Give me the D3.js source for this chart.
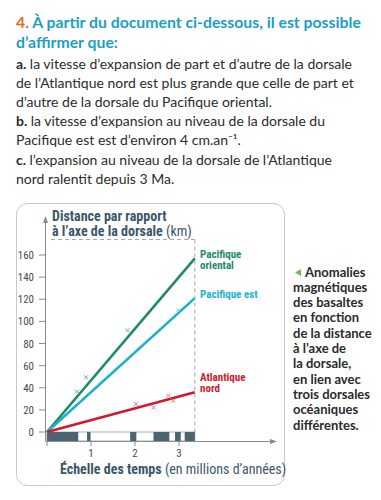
<!DOCTYPE html>
<html>
<head>
<meta charset="utf-8">
<script src="https://cdn.jsdelivr.net/npm/d3@7"></script>
<style>
  html, body { margin: 0; padding: 0; background: #fff; }
  svg { display: block; }
</style>
</head>
<body>
<svg id="chart" width="381" height="500"></svg>
<script>
// ---------- DATA ----------
const seriesNames = ["Pacifique oriental", "Pacifique est", "Atlantique nord"];
const seriesLabelLines = [["Pacifique", "oriental"], ["Pacifique est"], ["Atlantique", "nord"]];
const lineEndAge = 3.36;                 // Ma, end of the fitted lines
const lineEndDistance = [157, 121, 36];  // km at lineEndAge
const pointsPacOriental = [[0.68, 36.5], [0.89, 49.5], [1.83, 92]];
const pointsPacEst = [[2.98, 110]];
const pointsAtlNord = [[2.02, 25.3], [2.42, 22], [2.76, 32.8], [2.87, 28.3]];
const normalPolarity = [[0, 0.71], [0.91, 0.99], [1.89, 2.03], [2.42, 2.78], [2.91, 3.04], [3.13, 3.36]];
const xTicks = [1, 2, 3];
const yTicks = [0, 20, 40, 60, 80, 100, 120, 140, 160];

const headerLines = ["À partir du document ci-dessous, il est possible", "d’affirmer que:"];
const bodyLines = [
  [["a. ", true], ["la vitesse d’expansion de part et d’autre de la dorsale", false]],
  [["de l’Atlantique nord est plus grande que celle de part et", false]],
  [["d’autre de la dorsale du Pacifique oriental.", false]],
  [["b. ", true], ["la vitesse d’expansion au niveau de la dorsale du", false]],
  [["Pacifique est est d’environ 4 cm.an⁻¹.", false]],
  [["c. ", true], ["l’expansion au niveau de la dorsale de l’Atlantique", false]],
  [["nord ralentit depuis 3 Ma.", false]]
];
const sideNote = ["Anomalies", "magnétiques", "des basaltes", "en fonction", "de la distance",
  "à l’axe de", "la dorsale,", "en lien avec", "trois dorsales", "océaniques", "différentes."];

// ---------- STYLE ----------
const colors = ["#1e8a68", "#1cb1cd", "#d0192c"];
const markerColors = ["#6fae9a", "#7fd0de", "#e07a85"];
const textFont = "Lato, 'Open Sans', sans-serif";
const condFont = "'Liberation Sans Narrow', 'Roboto Condensed', Roboto, sans-serif";
const slate = "#3b5767";

const svg = d3.select("#chart");

// ---------- Header text ----------
const h = svg.append("text").attr("x", 16).attr("y", 27.5)
  .attr("font-family", textFont).attr("font-weight", 700).attr("font-size", 15.8).attr("fill", "#1b9fc4");
h.append("tspan").attr("fill", "#e8692a").text("4. ");
h.append("tspan").text(headerLines[0]);
svg.append("text").attr("x", 16).attr("y", 47.5)
  .attr("font-family", textFont).attr("font-weight", 700).attr("font-size", 15.8).attr("fill", "#1b9fc4")
  .text(headerLines[1]);

bodyLines.forEach((parts, i) => {
  const t = svg.append("text").attr("x", 16).attr("y", 68.5 + i * 19.2)
    .attr("font-family", textFont).attr("font-size", 14).attr("fill", "#2b2b2b");
  parts.forEach(([s, bold]) => {
    t.append("tspan").attr("font-weight", bold ? 700 : 400).text(s);
  });
});

// ---------- Panel ----------
svg.append("rect").attr("x", 16.5).attr("y", 203.5).attr("width", 268).attr("height", 282)
  .attr("rx", 11).attr("fill", "none").attr("stroke", "#c4c9cc").attr("stroke-width", 1);

// ---------- Scales ----------
const x = d3.scaleLinear().domain([0, 3]).range([47, 179]);
const y = d3.scaleLinear().domain([0, 160]).range([432, 255]);
const axisY = 441;
const axisGrey = "#858c90";

// dashed frame
svg.append("line").attr("x1", 51).attr("x2", x(lineEndAge)).attr("y1", 239.5).attr("y2", 239.5)
  .attr("stroke", "#a6a6a6").attr("stroke-dasharray", "4,3");
svg.append("line").attr("x1", x(lineEndAge)).attr("x2", x(lineEndAge)).attr("y1", 239.5).attr("y2", y(0))
  .attr("stroke", "#a6a6a6").attr("stroke-dasharray", "4,3");

// Y axis
svg.append("line").attr("x1", 45.5).attr("x2", 45.5).attr("y1", 220).attr("y2", axisY)
  .attr("stroke", axisGrey);
svg.append("path").attr("d", "M45.5,216 L43,223 L48,223 Z").attr("fill", axisGrey);
const yg = svg.append("g");
yTicks.forEach(v => {
  yg.append("line").attr("x1", 39).attr("x2", 45.5).attr("y1", y(v)).attr("y2", y(v)).attr("stroke", axisGrey);
  yg.append("text").attr("x", 34).attr("y", y(v) + 4).attr("text-anchor", "end")
    .attr("font-family", condFont).attr("font-size", 11).attr("fill", "#4a4a4a").text(v);
});

// X axis
svg.append("line").attr("x1", 45.5).attr("x2", 272).attr("y1", axisY + 0.5).attr("y2", axisY + 0.5)
  .attr("stroke", axisGrey);
svg.append("path").attr("d", `M277,${axisY + 0.5} L270,${axisY - 2} L270,${axisY + 3} Z`).attr("fill", axisGrey);
[0].concat(xTicks).forEach(v => {
  svg.append("line").attr("x1", x(v)).attr("x2", x(v)).attr("y1", axisY).attr("y2", axisY + 5)
    .attr("stroke", axisGrey);
});
xTicks.forEach(v => {
  svg.append("text").attr("x", x(v)).attr("y", 457).attr("text-anchor", "middle")
    .attr("font-family", condFont).attr("font-size", 11).attr("fill", "#4a4a4a").text(v);
});

// Magnetic polarity band
svg.append("rect").attr("x", x(0)).attr("y", y(0)).attr("width", x(lineEndAge) - x(0)).attr("height", axisY - y(0))
  .attr("fill", "#fff").attr("stroke", "#8d9aa2").attr("stroke-width", 0.8);
svg.selectAll("rect.norm").data(normalPolarity).enter().append("rect").attr("class", "norm")
  .attr("x", d => x(d[0])).attr("width", d => x(d[1]) - x(d[0]))
  .attr("y", y(0)).attr("height", axisY - y(0)).attr("fill", "#4d6471");

// Lines
lineEndDistance.forEach((d, i) => {
  svg.append("line").attr("x1", x(0)).attr("y1", y(0)).attr("x2", x(lineEndAge)).attr("y2", y(d))
    .attr("stroke", colors[i]).attr("stroke-width", 2.6);
});

// Markers
[pointsPacOriental, pointsPacEst, pointsAtlNord].forEach((pts, i) => {
  pts.forEach(p => {
    const cx = x(p[0]), cy = y(p[1]), r = 2;
    svg.append("path").attr("d", `M${cx - r},${cy - r}L${cx + r},${cy + r}M${cx - r},${cy + r}L${cx + r},${cy - r}`)
      .attr("stroke", markerColors[i]).attr("stroke-width", 1);
  });
});

// Series labels
const labelY = [[257.5, 269], [298], [380.5, 392]];
seriesLabelLines.forEach((lines, i) => {
  lines.forEach((s, j) => {
    svg.append("text").attr("x", 200).attr("y", labelY[i][j])
      .attr("font-family", condFont).attr("font-weight", 700).attr("font-size", 11)
      .attr("fill", colors[i]).text(s);
  });
});

// Axis titles
svg.append("text").attr("x", 52).attr("y", 221)
  .attr("font-family", condFont).attr("font-weight", 700).attr("font-size", 14).attr("fill", slate)
  .text("Distance par rapport");
const yt2 = svg.append("text").attr("x", 52).attr("y", 235.5)
  .attr("font-family", condFont).attr("font-size", 14).attr("fill", slate);
yt2.append("tspan").attr("font-weight", 700).text("à l’axe de la dorsale ");
yt2.append("tspan").attr("font-weight", 400).text("(km)");

const xt = svg.append("text").attr("x", 60).attr("y", 474)
  .attr("font-family", condFont).attr("font-size", 14).attr("fill", slate);
xt.append("tspan").attr("font-weight", 700).text("Échelle des temps ");
xt.append("tspan").attr("font-weight", 400).text("(en millions d’années)");

// Side note
svg.append("path").attr("d", "M295,272.5 L301,269 L301,276 Z").attr("fill", "#6cbf4a");
sideNote.forEach((s, i) => {
  svg.append("text").attr("x", i === 0 ? 305 : 293).attr("y", 276.5 + i * 15.3)
    .attr("font-family", textFont).attr("font-weight", 700).attr("font-size", 13)
    .attr("fill", "#2a2a2a").text(s);
});
</script>
</body>
</html>
